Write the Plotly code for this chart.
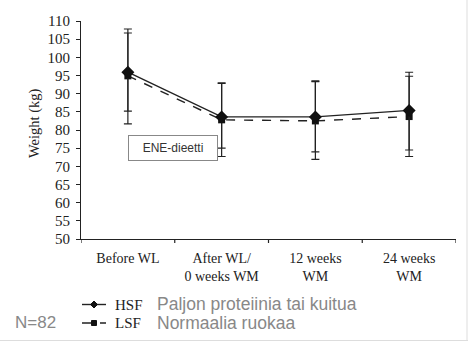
import plotly.graph_objects as go

categories = ["Before WL", "After WL/<br>0 weeks WM", "12 weeks<br>WM", "24 weeks<br>WM"]
hsf_mean = [95.9, 83.6, 83.6, 85.4]
hsf_upper = [107.8, 93.0, 93.5, 95.9]
hsf_lower = [85.2, 72.7, 71.9, 72.7]
lsf_mean = [94.9, 82.8, 82.5, 83.7]
lsf_upper = [106.7, 92.8, 93.3, 94.8]
lsf_lower = [81.7, 75.0, 74.0, 74.5]
y_ticks = list(range(50, 111, 5))

serif = "Liberation Serif, Times New Roman, serif"
sans = "Liberation Sans, Arial, sans-serif"

W, H = 468, 341
L, R, T, B = 81, 12, 21, 102
PW, PH = W - L - R, H - T - B


def px(x):
    return (x - L) / PW


def py(y):
    return (H - B - y) / PH


xs = list(range(len(categories)))

fig = go.Figure()

fig.add_trace(go.Scatter(
    x=xs, y=lsf_mean, mode="lines+markers",
    line=dict(color="#222", width=1.4, dash="dash"),
    marker=dict(symbol="square", size=7, color="#111"),
    error_y=dict(type="data", symmetric=False,
                 array=[u - m for u, m in zip(lsf_upper, lsf_mean)],
                 arrayminus=[m - l for m, l in zip(lsf_mean, lsf_lower)],
                 color="#222", thickness=1.2, width=4),
    showlegend=False))
fig.add_trace(go.Scatter(
    x=xs, y=hsf_mean, mode="lines+markers",
    line=dict(color="#222", width=1.4),
    marker=dict(symbol="diamond", size=10, color="#111"),
    error_y=dict(type="data", symmetric=False,
                 array=[u - m for u, m in zip(hsf_upper, hsf_mean)],
                 arrayminus=[m - l for m, l in zip(hsf_mean, hsf_lower)],
                 color="#222", thickness=1.2, width=4),
    showlegend=False))


def diamond(cx, cy, r):
    return (f"M {px(cx)},{py(cy - r)} L {px(cx + r)},{py(cy)} "
            f"L {px(cx)},{py(cy + r)} L {px(cx - r)},{py(cy)} Z")


shapes = [
    dict(type="line", xref="paper", yref="paper", x0=px(82), x1=px(106), y0=py(304.5), y1=py(304.5),
         line=dict(color="#222", width=1.4)),
    dict(type="path", xref="paper", yref="paper", path=diamond(94, 304.5, 3.5),
         fillcolor="#111", line=dict(color="#111", width=1)),
    dict(type="line", xref="paper", yref="paper", x0=px(82), x1=px(106), y0=py(323), y1=py(323),
         line=dict(color="#222", width=1.4, dash="dash")),
    dict(type="rect", xref="paper", yref="paper", x0=px(91.5), x1=px(96.5), y0=py(320.5), y1=py(325.5),
         fillcolor="#111", line=dict(color="#111", width=1)),
    dict(type="line", xref="paper", yref="paper", x0=px(0), x1=px(468), y0=py(340.5), y1=py(340.5),
         line=dict(color="#ddd", width=1)),
    dict(type="line", xref="paper", yref="paper", x0=px(467), x1=px(467), y0=py(0), y1=py(341),
         line=dict(color="#ddd", width=1)),
]
# category boundary ticks (outside, below the axis)
for b in [-0.5, 0.5, 1.5, 2.5, 3.5]:
    shapes.append(dict(type="line", xref="x", yref="paper", x0=b, x1=b, y0=0, y1=py(243),
                       line=dict(color="#222", width=1.2)))

C = dict(xanchor="center", yanchor="middle", showarrow=False, xref="paper", yref="paper")
LFT = dict(xanchor="left", yanchor="middle", showarrow=False, xref="paper", yref="paper")

annotations = [
    dict(x=px(172.5), y=py(147.5), text="ENE-dieetti", width=86, height=22,
         bordercolor="#888", borderwidth=1, borderpad=1, bgcolor="white",
         font=dict(family=sans, size=12, color="#333"), **C),
    dict(x=px(34), y=py(124), text="Weight (kg)", textangle=-90,
         font=dict(family=serif, size=14.5, color="#222"), **C),
    dict(x=px(113), y=py(304.5), text="HSF", font=dict(family=serif, size=15, color="#222"), **LFT),
    dict(x=px(113), y=py(323), text="LSF", font=dict(family=serif, size=15, color="#222"), **LFT),
    dict(x=px(155), y=py(304), text="Paljon proteiinia tai kuitua",
         font=dict(family=sans, size=17.5, color="#888"), **LFT),
    dict(x=px(155), y=py(323), text="Normaalia ruokaa",
         font=dict(family=sans, size=17.5, color="#888"), **LFT),
    dict(x=px(13), y=py(322), text="N=82",
         font=dict(family=sans, size=17, color="#888"), **LFT),
]

fig.update_layout(
    width=W, height=H,
    margin=dict(l=L, r=R, t=T, b=B),
    paper_bgcolor="white", plot_bgcolor="white",
    xaxis=dict(range=[-0.5, 3.5], tickmode="array", tickvals=xs, ticktext=categories,
               ticks="", ticklabelstandoff=6, showline=True, linecolor="#222", linewidth=1.2,
               showgrid=False, zeroline=False,
               tickfont=dict(family=serif, size=14, color="#222")),
    yaxis=dict(range=[50, 110], tickmode="array", tickvals=y_ticks,
               ticks="outside", ticklen=4, tickcolor="#222", ticklabelstandoff=3,
               showline=True, linecolor="#222", linewidth=1.2,
               showgrid=False, zeroline=False,
               tickfont=dict(family=serif, size=15, color="#222")),
    shapes=shapes, annotations=annotations,
)

fig.write_html("out.html")
